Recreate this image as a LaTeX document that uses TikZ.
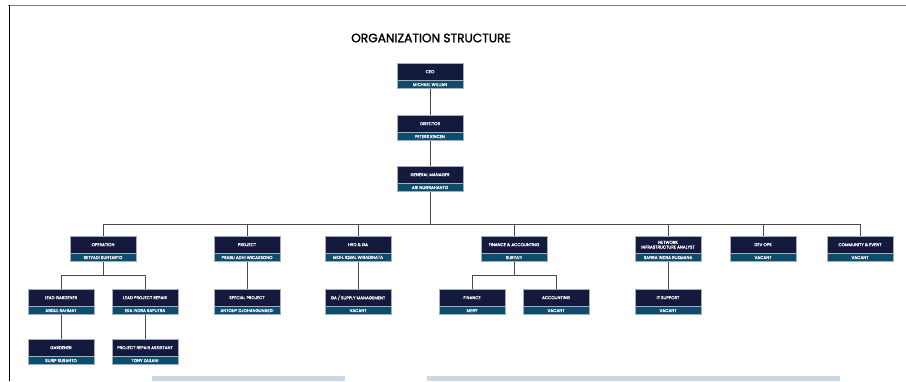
\documentclass[tikz,border=0pt]{standalone}
\usepackage{fontspec}
\setmainfont{Poppins}
\newfontfamily\titlefont{Poppins}[FakeBold=1.6]
\newfontfamily\boxfont{Poppins}[FakeBold=0.8]
\usetikzlibrary{positioning}
\definecolor{navy}{HTML}{131A3D}
\definecolor{tealbar}{HTML}{0E4C6C}
\definecolor{boxline}{HTML}{A4AEBD}
\definecolor{wire}{HTML}{4A4A4A}
\definecolor{barblue}{HTML}{CBD7E3}
\tikzset{
  rolebox/.style={fill=navy, draw=boxline, line width=0.4pt, text=white,
    minimum width=66pt, minimum height=17pt, inner sep=0pt, align=center,
    font=\boxfont\fontsize{4.2}{4.8}\selectfont},
  namebox/.style={fill=tealbar, draw=boxline, line width=0.4pt, text=white,
    minimum width=66pt, minimum height=8pt, inner sep=0pt,
    font=\boxfont\fontsize{4.2}{4.8}\selectfont},
}
% role on top, person underneath
\newcommand{\orgbox}[5]{%
  \node[rolebox, anchor=north] (#1) at (#2,#3) {#4};
  \node[namebox, below=0pt of #1] (#1-n) {#5};}

\begin{document}
\begin{tikzpicture}[x=1pt,y=-1pt]
        \useasboundingbox (0,0) rectangle (906,381);
        \draw[gray, line width=1.7pt] (8,5.5) -- (906,5.5);
        \draw[black, line width=1pt] (9,5) -- (9,381);
        \fill[barblue] (152,376) rectangle (345,381);
        \fill[barblue] (427,376) rectangle (840,381);

        \node (title) at (431,38) {\titlefont\fontsize{12.2}{13}\selectfont ORGANIZATION STRUCTURE};

        \orgbox{ceo}{430}{63}{CEO}{MICHAEL WILLIAN}
        \orgbox{dir}{430}{115}{DIRECTOR}{PETERS KINCEN}
        \orgbox{gm}{430}{166}{GENERAL MANAGER}{ARI NUGRAHANTO}

        \orgbox{ops}{103}{236}{OPERATION}{SETYADI KUNTARTO}
        \orgbox{prj}{247}{236}{PROJECT}{PRABU ADHI WICAKSONO}
        \orgbox{hrd}{358}{236}{HRD \& GA}{MOH. IQBAL WIRADINATA}
        \orgbox{fin}{514}{236}{FINANCE \& ACCOUNTING}{SURYATI}
        \orgbox{net}{668}{236}{NETWORK\\INFRASTRUCTURE ANALYST}{SAFIRA INDRA RUKMANA}
        \orgbox{dev}{763}{236}{DEV OPS}{VACANT}
        \orgbox{com}{860}{236}{COMMUNITY \& EVENT}{VACANT}

        \orgbox{lgd}{61}{289}{LEAD GARDENER}{ABDUL RAHMAT}
        \orgbox{lpr}{145}{289}{LEAD PROJECT REPAIR}{EKA INDRA SAPUTRA}
        \orgbox{spj}{247}{289}{SPECIAL PROJECT}{ANTONY DJOHANGUNAEDI}
        \orgbox{gas}{358}{289}{GA / SUPPLY MANAGEMENT}{VACANT}
        \orgbox{fnc}{472}{289}{FINANCE}{MERY}
        \orgbox{acc}{556}{289}{ACCOUNTING}{VACANT}
        \orgbox{its}{668}{289}{IT SUPPORT}{VACANT}

        \orgbox{gdn}{61}{339}{GARDENER}{SURIP SUSANTO}
        \orgbox{pra}{145}{339}{PROJECT REPAIR ASSISTANT}{TONY ZAILANI}

        \begin{scope}[wire, line width=0.8pt]
            \draw (ceo-n) -- (dir);
            \draw (dir-n) -- (gm);
            \draw (ops.north) -- ++(0,-12) -| (gm-n.south);
            \draw (prj.north) -- ++(0,-12) -| (gm-n.south);
            \draw (hrd.north) -- ++(0,-12) -| (gm-n.south);
            \draw (fin.north) -- ++(0,-12) -| (gm-n.south);
            \draw (net.north) -- ++(0,-12) -| (gm-n.south);
            \draw (dev.north) -- ++(0,-12) -| (gm-n.south);
            \draw (com.north) -- ++(0,-12) -| (gm-n.south);
            \draw (lgd.north) -- ++(0,-14) -| (ops-n.south);
            \draw (lpr.north) -- ++(0,-14) -| (ops-n.south);
            \draw (prj-n) -- (spj);
            \draw (hrd-n) -- (gas);
            \draw (fnc.north) -- ++(0,-14) -| (fin-n.south);
            \draw (acc.north) -- ++(0,-14) -| (fin-n.south);
            \draw (net-n) -- (its);
            \draw (lgd-n) -- (gdn);
            \draw (lpr-n) -- (pra);
        \end{scope}

        \end{tikzpicture}
\end{document}
